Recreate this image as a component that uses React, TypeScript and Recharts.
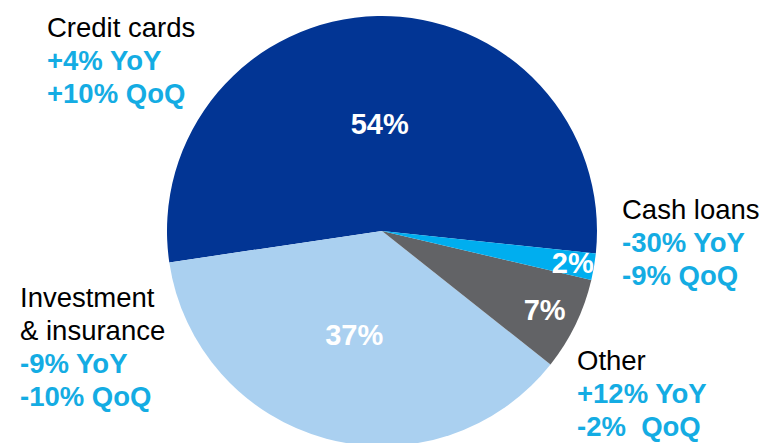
import { PieChart, Pie, Cell } from 'recharts'

const segments = ['Credit cards', 'Investment & insurance', 'Other', 'Cash loans']
const shares = [54, 37, 7, 2]
const yoy = ['+4% YoY', '-9% YoY', '+12% YoY', '-30% YoY']
const qoq = ['+10% QoQ', '-10% QoQ', '-2%\u00a0 QoQ', '-9% QoQ']

const colors = ['#023594', '#AAD0F0', '#626366', '#00AEEF']
const accent = '#14ACE3'
const font = '"Liberation Sans", Arial, sans-serif'

// where each callout sits (left, top of first line)
const callouts = [
  { left: 47, top: 11, title: ['Credit cards'] },
  { left: 20, top: 281, title: ['Investment', '& insurance'] },
  { left: 577, top: 344, title: ['Other'] },
  { left: 622, top: 193, title: ['Cash loans'] }
]

const data = segments.map((name, i) => ({ name, value: shares[i] }))

const RADIAN = Math.PI / 180

const renderLabel = (props: any) => {
  const { cx, cy, midAngle, outerRadius, value } = props
  const k = value > 20 ? 0.5 : value > 5 ? 0.84 : 0.9
  const r = outerRadius * k
  const x = cx + r * Math.cos(-midAngle * RADIAN)
  const y = cy + r * Math.sin(-midAngle * RADIAN)
  return (
    <text
      x={x}
      y={y}
      fill="#fff"
      textAnchor="middle"
      dominantBaseline="central"
      fontFamily={font}
      fontWeight="bold"
      fontSize={29}
    >
      {value}%
    </text>
  )
}

export default function App() {
  return (
    <div style={{ position: 'absolute', left: 0, top: 0, width: 765, height: 443, background: '#fff', overflow: 'hidden' }}>
      <PieChart width={765} height={443} margin={{ top: 0, right: 0, bottom: 0, left: 0 }}>
        <Pie
          data={data}
          dataKey="value"
          cx={382}
          cy={231}
          outerRadius={215}
          startAngle={-6}
          endAngle={354}
          stroke="none"
          label={renderLabel}
          labelLine={false}
          isAnimationActive={false}
        >
          {data.map((d, i) => (
            <Cell key={d.name} fill={colors[i]} />
          ))}
        </Pie>
      </PieChart>
      {callouts.map((c, i) => (
        <div
          key={segments[i]}
          style={{
            position: 'absolute',
            left: c.left,
            top: c.top,
            fontFamily: font,
            fontSize: 27.5,
            lineHeight: '33px',
            whiteSpace: 'nowrap'
          }}
        >
          {c.title.map(t => (
            <div key={t} style={{ color: '#000' }}>{t}</div>
          ))}
          <div style={{ color: accent, fontWeight: 'bold' }}>{yoy[i]}</div>
          <div style={{ color: accent, fontWeight: 'bold' }}>{qoq[i]}</div>
        </div>
      ))}
    </div>
  )
}
